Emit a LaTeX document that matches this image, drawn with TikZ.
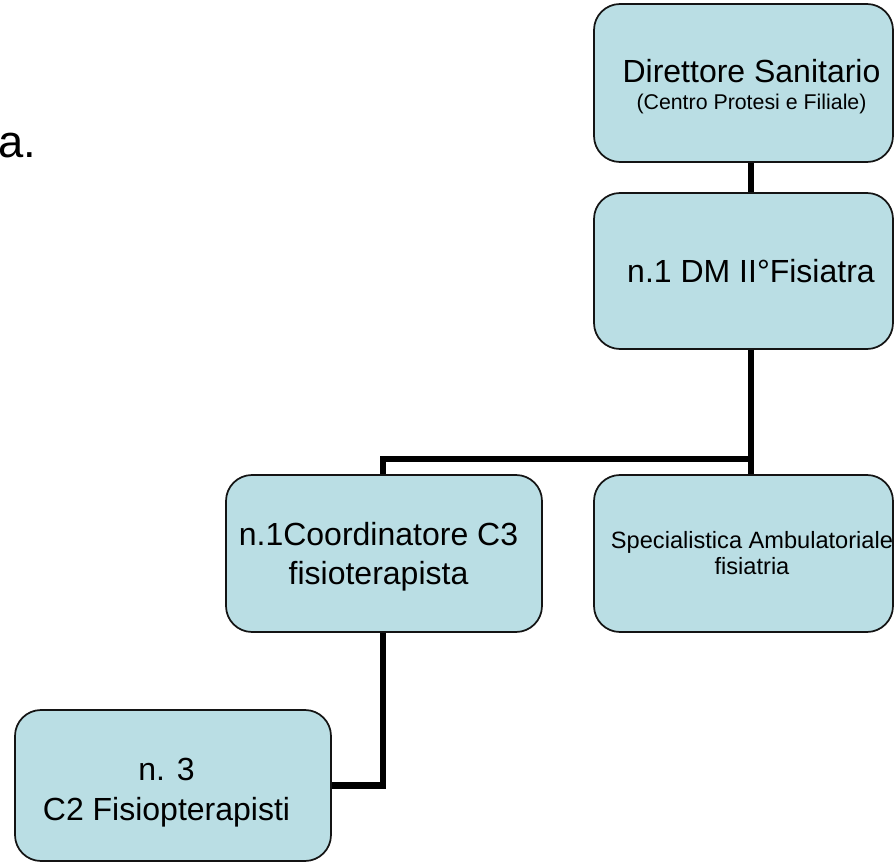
\documentclass[tikz,border=0pt]{standalone}
\usepackage{fontspec}
\setmainfont{Liberation Sans}
\definecolor{boxfill}{RGB}{186,222,228}
\definecolor{boxline}{RGB}{20,20,20}
\tikzset{
  orgbox/.style={draw=boxline, line width=1.3pt, fill=boxfill, rounded corners=19.5pt,
    inner sep=0pt},
  bigtxt/.style={anchor=base, inner sep=0pt, text=black, font=\fontsize{24}{28.8}\selectfont},
  smalltxt/.style={anchor=base, inner sep=0pt, text=black, font=\fontsize{16}{19.2}\selectfont},
  midtxt/.style={anchor=base, inner sep=0pt, text=black, font=\fontsize{17.7}{21}\selectfont},
  link/.style={line width=5.2pt, draw=black}
}
\begin{document}
\begin{tikzpicture}[x=0.75pt,y=-0.75pt]
\useasboundingbox (0,0) rectangle (894,863);

% leftover title fragment at the left margin
\node[anchor=base west, inner sep=0pt, font=\fontsize{34}{41}\selectfont] (title) at (-1.5,158) {a.};

% boxes
\node[orgbox, minimum width=224.25pt, minimum height=118.5pt] (dir) at (743.5,83) {};
\node[orgbox, minimum width=224.25pt, minimum height=117pt] (dm) at (743.5,271) {};
\node[orgbox, minimum width=237pt, minimum height=117.75pt] (coord) at (384,553.5) {};
\node[orgbox, minimum width=224.25pt, minimum height=117.75pt] (spec) at (743.5,553.5) {};
\node[orgbox, minimum width=237pt, minimum height=113.25pt] (fis) at (173,785.5) {};

% box texts, one node per line
\node[bigtxt]   (dir-a)   at (751.5,83)  {Direttore Sanitario};
\node[smalltxt] (dir-b)   at (751.5,110) {(Centro Protesi e Filiale)};
\node[bigtxt]   (dm-a)    at (751,283)   {n.1 DM II°Fisiatra};
\node[bigtxt]   (coord-a) at (378.5,545) {n.1Coordinatore C3};
\node[bigtxt]   (coord-b) at (378.5,584) {fisioterapista};
\node[midtxt]   (spec-a)  at (752,548)   {Specialistica Ambulatoriale};
\node[midtxt]   (spec-b)  at (752,575)   {fisiatria};
\node[bigtxt]   (fis-a)   at (166.5,780) {n. 3};
\node[bigtxt]   (fis-b)   at (166.5,820) {C2 Fisiopterapisti};

% connectors
\coordinate (trunk) at (751,459);
\coordinate (branch) at (383,459);
\draw[link] (dir.south -| trunk) -- (dm.north -| trunk);
\draw[link] (dm.south -| trunk) -- (spec.north -| trunk);
\draw[link, line cap=rect] (trunk) -- (branch);
\draw[link] (branch) -- (coord.north -| branch);
\draw[link] (coord.south -| branch) |- (fis.east);
\end{tikzpicture}
\end{document}
